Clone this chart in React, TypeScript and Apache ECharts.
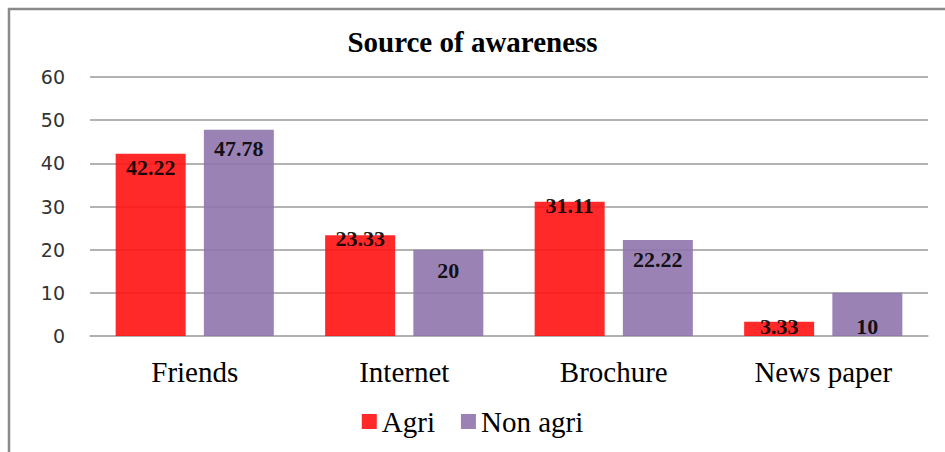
import React, { useEffect, useRef } from "react";
import * as echarts from "echarts";

const categories = ["Friends", "Internet", "Brochure", "News paper"];
const agri = [42.22, 23.33, 31.11, 3.33];
const nonAgri = [47.78, 20, 22.22, 10];
const seriesNames = ["Agri", "Non agri"];
const yTicks = { min: 0, max: 60, interval: 10 };

// label drop (px) from bar top to label centre, per bar
const agriLabelDrop = [14, 3, 4, 5];
const nonAgriLabelDrop = [19, 21, 19, 34];

const SERIF = "'Liberation Serif', 'DejaVu Serif', serif";
const LABEL_FS = 22;

function buildData(values: number[], drops: number[]) {
  return values.map((v, i) => ({
    value: v,
    label: { offset: [0, drops[i] - LABEL_FS / 2] },
  }));
}

export default function App() {
  const ref = useRef<HTMLDivElement>(null);
  useEffect(() => {
    if (!ref.current) return;
    const chart = echarts.init(ref.current, undefined, { renderer: "svg" });
    const labelStyle = {
      show: true,
      position: "insideTop",
      distance: 0,
      fontFamily: SERIF,
      fontWeight: "bold",
      fontSize: LABEL_FS,
      lineHeight: LABEL_FS,
      color: "#000",
    };
    chart.setOption({
      animation: false,
      backgroundColor: "#fff",
      title: {
        text: "Source of awareness",
        left: "center",
        top: 22,
        textStyle: {
          fontFamily: SERIF,
          fontWeight: "bold",
          fontSize: 29,
          color: "#000",
        },
      },
      graphic: [
        {
          type: "rect",
          shape: { x: 9, y: 9, width: 1000, height: 500 },
          style: { fill: "none", stroke: "#8a8a8a", lineWidth: 2.5 },
          silent: true,
        },
      ],
      legend: {
        data: seriesNames,
        bottom: 11,
        left: "center",
        itemWidth: 15,
        itemHeight: 15,
        itemGap: 26,
        icon: "rect",
        textStyle: { fontFamily: SERIF, fontSize: 29, color: "#000" },
      },
      grid: { left: 90, right: 17, top: 77, bottom: 116 },
      xAxis: {
        type: "category",
        data: categories,
        axisTick: { show: false },
        axisLine: { lineStyle: { color: "#b0b0b0", width: 1.5 } },
        axisLabel: {
          fontFamily: SERIF,
          fontSize: 29,
          color: "#000",
          margin: 21,
        },
      },
      yAxis: {
        type: "value",
        min: yTicks.min,
        max: yTicks.max,
        interval: yTicks.interval,
        axisLine: { show: false },
        axisTick: { show: false },
        axisLabel: {
          fontFamily: "'DejaVu Sans', Verdana, sans-serif",
          fontSize: 19,
          color: "#333",
          margin: 25,
        },
        splitLine: { lineStyle: { color: "#9a9a9a", width: 1.5 } },
      },
      series: [
        {
          name: seriesNames[0],
          type: "bar",
          barWidth: 70,
          barGap: "26%",
          itemStyle: { color: "#ff1212", opacity: 0.9 },
          label: labelStyle,
          data: buildData(agri, agriLabelDrop),
        },
        {
          name: seriesNames[1],
          type: "bar",
          barWidth: 70,
          barGap: "26%",
          itemStyle: { color: "#8f76ac", opacity: 0.9 },
          label: labelStyle,
          data: buildData(nonAgri, nonAgriLabelDrop),
        },
      ],
    });
    return () => chart.dispose();
  }, []);
  return (
    <div
      ref={ref}
      style={{ position: "absolute", left: 0, top: 0, width: 945, height: 452 }}
    />
  );
}
